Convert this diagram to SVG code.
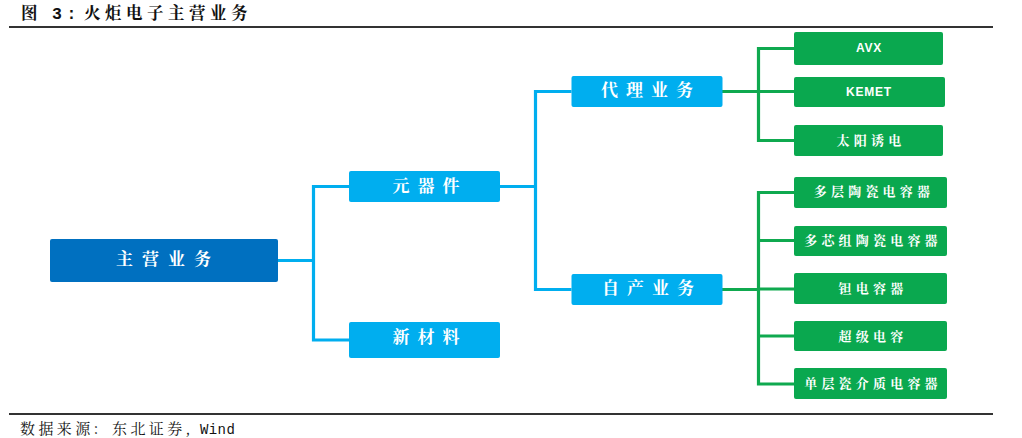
<svg xmlns="http://www.w3.org/2000/svg" width="1022" height="438" viewBox="0 0 1022 438">
<style>
.rule{stroke:#333;fill:none}
.cap{font-family:"Noto Serif CJK SC","Noto Sans CJK SC","Liberation Mono",serif;fill:#111}
.mono{font-family:"Liberation Mono","Noto Sans CJK SC",monospace}
.lb{fill:none;stroke:#00aeef;stroke-width:3.2}
.lg{fill:none;stroke:#0fa94f;stroke-width:3.2}
.n text{font-family:"Noto Serif CJK SC","Noto Sans CJK SC","Liberation Sans",serif;fill:#fff;text-anchor:middle;font-weight:700}
.dk{fill:#0070c0}.bl{fill:#00aeef}.gr{fill:#0aa84f}
.t1 text{font-size:17px;letter-spacing:8px}
.t2 text{font-size:13px;letter-spacing:4.200px}
.n text.lat{font-family:"Liberation Sans",sans-serif;font-size:12px;letter-spacing:.8px}
</style>
<rect width="1022" height="438" fill="#fff"/>
<line class="rule" x1="9" y1="27" x2="993" y2="27" stroke-width="1.800"/>
<line class="rule" x1="9" y1="414" x2="993" y2="414" stroke-width="1.800"/>
<text class="cap" y="19" font-size="16.500" font-weight="700" letter-spacing="4.500"><tspan x="21">图</tspan><tspan class="mono" x="52">3:</tspan><tspan x="84">火炬电子主营业务</tspan></text>
<text class="cap" y="434" font-size="15" letter-spacing="3.400"><tspan x="20">数据来源:</tspan><tspan x="112">东北证券,</tspan><tspan class="mono" x="200" font-size="14" letter-spacing="0.400">Wind</tspan></text>
<g id="connectors">
<path class="lb" d="M278 260.500H313.500M349 186.500H313.500V340H349"/>
<path class="lb" d="M500 186.500H535.500M571.500 91.500H535.500V289.500H571.500"/>
<path class="lg" d="M722 91.500H758.500M794 48.500H758.500V140.500H794M758.500 91.500H794"/>
<path class="lg" d="M722 289.500H758.500M794 192.500H758.500V384H794M758.500 240.500H794M758.500 289H794M758.500 336H794"/>
</g>
<g id="n-root" class="n t1"><rect class="dk" x="50" y="239" width="228" height="43" rx="2"/><text x="168" y="265" style="letter-spacing:9px">主营业务</text></g>
<g id="n-components" class="n t1"><rect class="bl" x="349" y="171" width="151" height="31" rx="2"/><text x="430" y="192">元器件</text></g>
<g id="n-materials" class="n t1"><rect class="bl" x="349" y="322" width="151" height="36" rx="2"/><text x="430" y="343">新材料</text></g>
<g id="n-agency" class="n t1"><rect class="bl" x="571.500" y="76" width="151" height="31" rx="2"/><text x="651" y="96">代理业务</text></g>
<g id="n-own" class="n t1"><rect class="bl" x="571.500" y="274" width="151" height="31" rx="2"/><text x="652" y="294">自产业务</text></g>
<g id="n-avx" class="n t2"><rect class="gr" x="794" y="32" width="149" height="33" rx="2"/><text class="lat" x="869" y="52">AVX</text></g>
<g id="n-kemet" class="n t2"><rect class="gr" x="794" y="77" width="151" height="30" rx="2"/><text class="lat" x="869" y="96">KEMET</text></g>
<g id="n-taiyo" class="n t2"><rect class="gr" x="794" y="125" width="149" height="31" rx="2"/><text x="871" y="145">太阳诱电</text></g>
<g id="n-mlcc" class="n t2"><rect class="gr" x="794" y="177" width="153" height="31" rx="2"/><text x="874" y="196">多层陶瓷电容器</text></g>
<g id="n-mc" class="n t2"><rect class="gr" x="794" y="226" width="153" height="30" rx="2"/><text x="873" y="245">多芯组陶瓷电容器</text></g>
<g id="n-ta" class="n t2"><rect class="gr" x="794" y="273" width="153" height="31" rx="2"/><text x="873" y="293">钽电容器</text></g>
<g id="n-sc" class="n t2"><rect class="gr" x="794" y="321" width="153" height="30" rx="2"/><text x="873" y="341">超级电容</text></g>
<g id="n-slc" class="n t2"><rect class="gr" x="794" y="368" width="153" height="31" rx="2"/><text x="873" y="388">单层瓷介质电容器</text></g>
</svg>
